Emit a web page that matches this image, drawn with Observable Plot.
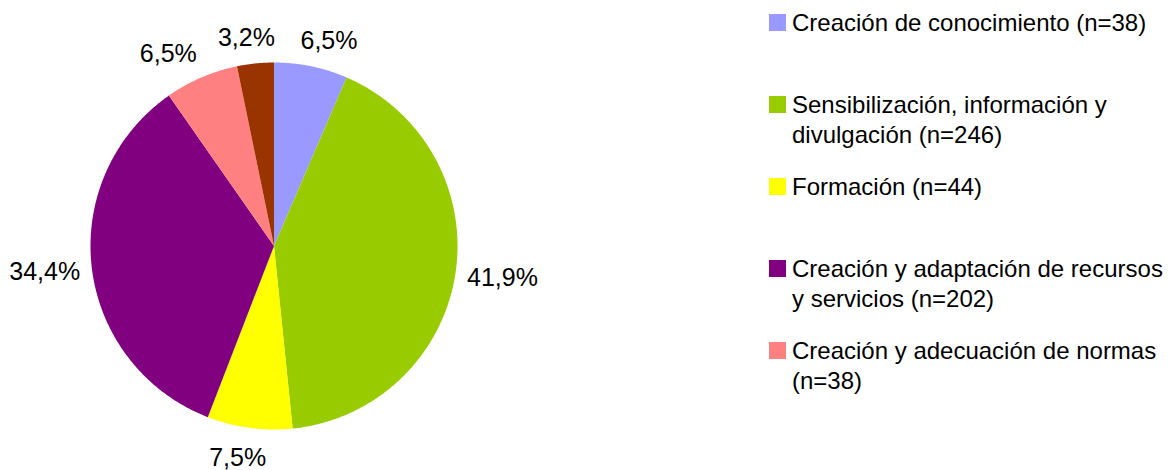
<!DOCTYPE html>
<html>
<head>
<meta charset="utf-8">
<script src="https://cdn.jsdelivr.net/npm/d3@7"></script>
<script src="https://cdn.jsdelivr.net/npm/@observablehq/plot@0.6"></script>
<style>
  html, body { margin: 0; padding: 0; background: #fff; }
  #wrap { position: relative; width: 1174px; height: 470px; overflow: hidden; font-family: "Liberation Sans", Arial, sans-serif; }
  #wrap svg { position: absolute; left: 0; top: 0; overflow: visible; }
  .entry { position: absolute; left: 769px; }
  .sw { position: absolute; left: 0; top: 6px; width: 17px; height: 17px; }
  .lab { position: absolute; left: 23px; top: 0; font-size: 24px; line-height: 30px; color: #000; white-space: nowrap; }
</style>
</head>
<body>
<div id="wrap"></div>
<script>
// ---- data ----
const categories = [
  "Creación de conocimiento (n=38)",
  "Sensibilización, información y divulgación (n=246)",
  "Formación (n=44)",
  "Creación y adaptación de recursos y servicios (n=202)",
  "Creación y adecuación de normas (n=38)",
  "Otros (n=19)"
];
const counts = [38, 246, 44, 202, 38, 19];
const colors = ["#9999FF", "#99CC00", "#FFFF00", "#800080", "#FF8080", "#993300"];
const legendLines = [
  ["Creación de conocimiento (n=38)"],
  ["Sensibilización, información y", "divulgación (n=246)"],
  ["Formación (n=44)"],
  ["Creación y adaptación de recursos", "y servicios (n=202)"],
  ["Creación y adecuación de normas", "(n=38)"]
];

// ---- geometry derived from data ----
const total = d3.sum(counts);
const arcs = d3.pie().sort(null).value(d => d)(counts);
const R = 183.5;
const slicePts = [];
arcs.forEach((a, i) => {
  const n = Math.max(4, Math.ceil((a.endAngle - a.startAngle) / 0.01));
  slicePts.push({cat: categories[i], x: 0, y: 0});
  for (let k = 0; k <= n; k++) {
    const t = a.startAngle + (a.endAngle - a.startAngle) * k / n;
    slicePts.push({cat: categories[i], x: Math.sin(t), y: Math.cos(t)});
  }
});

const ctx = document.createElement("canvas").getContext("2d");
ctx.font = "25px 'Liberation Sans'";
const labels = arcs.map((a, i) => {
  const txt = (counts[i] / total * 100).toFixed(1).replace(".", ",") + "%";
  const m = (a.startAngle + a.endAngle) / 2;
  const dx = Math.sin(m), dy = Math.cos(m);
  const hw = ctx.measureText(txt).width / 2 / R;
  const fx = Math.min(1, 2.7 * Math.abs(dx));
  const hh = (dy < 0 ? 0.1 : 0.075);
  return {txt, x: dx * 1.064 + Math.sign(dx) * hw * fx, y: dy * 1.064 + dy * hh};
});

const W = 1174, H = 470, cx = 273.5, cy = 245.5;
const chart = Plot.plot({
  width: W,
  height: H,
  marginLeft: cx - R,
  marginRight: W - (cx + R),
  marginTop: cy - R,
  marginBottom: H - (cy + R),
  x: {domain: [-1, 1], axis: null},
  y: {domain: [-1, 1], axis: null},
  color: {domain: categories, range: colors},
  style: {fontFamily: "'Liberation Sans', Arial, sans-serif", background: "#fff"},
  marks: [
    Plot.line(slicePts, {x: "x", y: "y", z: "cat", fill: "cat", stroke: "none", curve: "linear-closed"}),
    Plot.text(labels, {x: "x", y: "y", text: "txt", fontSize: 25, fill: "#000", textAnchor: "middle", lineAnchor: "middle"})
  ]
});
const wrap = document.getElementById("wrap");
wrap.appendChild(chart);

legendLines.forEach((lines, i) => {
  const e = document.createElement("div");
  e.className = "entry";
  e.style.top = (8 + i * 82) + "px";
  const sw = document.createElement("div");
  sw.className = "sw";
  sw.style.background = colors[i];
  const lab = document.createElement("div");
  lab.className = "lab";
  lab.innerHTML = lines.map(l => l.replace(/&/g, "&amp;")).join("<br>");
  e.appendChild(sw);
  e.appendChild(lab);
  wrap.appendChild(e);
});
</script>
</body>
</html>
